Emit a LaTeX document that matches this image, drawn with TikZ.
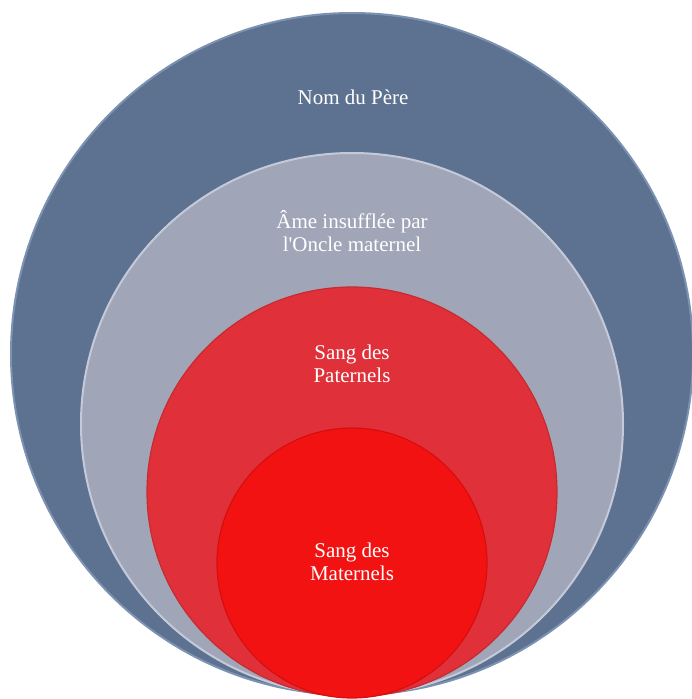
\documentclass[tikz,border=0pt]{standalone}
\usepackage{fontspec}
\setmainfont{Liberation Serif}
\definecolor{outerc}{HTML}{5D7290}
\definecolor{outerrim}{HTML}{7C92B2}
\definecolor{greyc}{HTML}{A0A6B8}
\definecolor{greyrim}{HTML}{C4CADA}
\definecolor{redc}{HTML}{E0313A}
\definecolor{redrim}{HTML}{C82A30}
\definecolor{innerc}{HTML}{F31212}
\definecolor{innerrim}{HTML}{D80E0E}
\tikzset{
  ring/.style={circle, inner sep=0pt, minimum size=#1},
  lbl/.style={text=white, align=center, font=\fontsize{21}{23}\selectfont}
}
\begin{document}
\begin{tikzpicture}[x=1pt,y=-1pt]
\useasboundingbox (0,0) rectangle (691,699);
\node[ring=682pt, fill=outerc, draw=outerrim, line width=2pt] (outer) at (352,354) {};
\node[ring=542pt, fill=greyc, draw=greyrim, line width=2pt] (grey) at (352,424) {};
\node[ring=410pt, fill=redc, draw=redrim, line width=1.2pt] (red) at (352,492) {};
\node[ring=270pt, fill=innerc, draw=innerrim, line width=1.2pt] (inner) at (352,563) {};
\node[lbl] (tpere) at (353,97) {Nom du Père};
\node[lbl] (tame) at (352,231) {Âme insufflée par\\l\textquotesingle Oncle maternel};
\node[lbl] (tpat) at (352,364) {Sang des\\Paternels};
\node[lbl] (tmat) at (352,562) {Sang des\\Maternels};
\end{tikzpicture}
\end{document}
